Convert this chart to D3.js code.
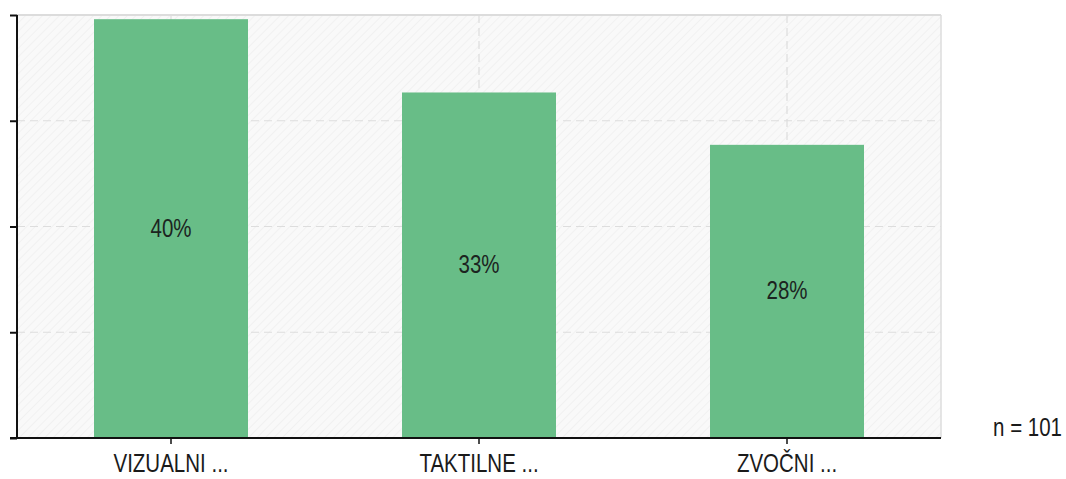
<!DOCTYPE html>
<html>
<head>
<meta charset="utf-8">
<script src="https://cdn.jsdelivr.net/npm/d3@7"></script>
<style>
  html, body { margin: 0; padding: 0; background: #ffffff; }
  svg { display: block; }
  .cat-label, .val-label, .n-label { font-family: "Liberation Sans", Arial, sans-serif; }
</style>
</head>
<body>
<svg id="chart" width="1066" height="479"></svg>
<script>
// Response counts per category (n = 101)
const categories = ["VIZUALNI ...", "TAKTILNE ...", "ZVOČNI ..."];
const counts = [40, 33, 28];
const total = 101;
const yTicks = [0, 10, 20, 30, 40];

const percents = counts.map(c => c / total * 100);

const W = 1066, H = 479;
const margin = { top: 15, right: 125, bottom: 41, left: 17 };
const plotW = W - margin.left - margin.right;
const plotH = H - margin.top - margin.bottom;
const FONT = 25;          // label font size
const SQUEEZE = 0.82;     // narrow letterforms

const svg = d3.select("#chart");

// Hatched plot background
const defs = svg.append("defs");
const pat = defs.append("pattern")
  .attr("id", "hatch")
  .attr("patternUnits", "userSpaceOnUse")
  .attr("width", 6).attr("height", 6)
  .attr("patternTransform", "rotate(45)");
pat.append("rect").attr("width", 6).attr("height", 6).attr("fill", "#f9f9f9");
pat.append("line").attr("x1", 0).attr("y1", 0).attr("x2", 0).attr("y2", 6)
  .attr("stroke", "#ececec").attr("stroke-width", 1.2);

const g = svg.append("g").attr("transform", `translate(${margin.left},${margin.top})`);

const x = d3.scaleBand().domain(categories).range([0, plotW]).paddingInner(0.5).paddingOuter(0.25);
const y = d3.scaleLinear().domain([0, 40]).range([plotH, 0]);

g.append("rect").attr("width", plotW).attr("height", plotH).attr("fill", "url(#hatch)");

// Plot frame (top and right)
g.append("line").attr("x1", 0).attr("x2", plotW).attr("y1", 0).attr("y2", 0)
  .attr("stroke", "#dcdcdc").attr("stroke-width", 2);
g.append("line").attr("x1", plotW).attr("x2", plotW).attr("y1", 0).attr("y2", plotH)
  .attr("stroke", "#dcdcdc").attr("stroke-width", 1.5);

// Dashed grid lines
g.append("g").selectAll("line")
  .data(yTicks.filter(t => t > 0 && t < 40))
  .join("line")
  .attr("x1", 0).attr("x2", plotW)
  .attr("y1", d => y(d)).attr("y2", d => y(d))
  .attr("stroke", "#dddddd").attr("stroke-width", 1.2)
  .attr("stroke-dasharray", "8,5");

g.append("g").selectAll("line")
  .data(categories)
  .join("line")
  .attr("x1", d => x(d) + x.bandwidth() / 2).attr("x2", d => x(d) + x.bandwidth() / 2)
  .attr("y1", 0).attr("y2", plotH)
  .attr("stroke", "#dddddd").attr("stroke-width", 1.2)
  .attr("stroke-dasharray", "8,5");

// Bars
g.append("g").selectAll("rect")
  .data(categories)
  .join("rect")
  .attr("x", d => x(d))
  .attr("y", (d, i) => y(percents[i]))
  .attr("width", x.bandwidth())
  .attr("height", (d, i) => plotH - y(percents[i]))
  .attr("fill", "#68bd87");

// Value labels in the middle of each bar
g.append("g").selectAll("text")
  .data(categories)
  .join("text")
  .attr("class", "val-label")
  .attr("transform", (d, i) =>
    `translate(${x(d) + x.bandwidth() / 2},${(y(percents[i]) + plotH) / 2 + 8}) scale(${SQUEEZE},1)`)
  .attr("text-anchor", "middle")
  .attr("font-size", FONT)
  .attr("fill", "#1c241f")
  .text((d, i) => Math.round(percents[i]) + "%");

// Y axis (no labels)
const yAxis = g.append("g")
  .call(d3.axisLeft(y).tickValues(yTicks).tickSize(7).tickFormat(""));
yAxis.select(".domain").attr("stroke", "#111").attr("stroke-width", 2)
  .attr("d", `M0,${plotH}V0`);
yAxis.selectAll(".tick line").attr("stroke", "#111").attr("stroke-width", 2);

// X axis
const xAxis = g.append("g")
  .attr("transform", `translate(0,${plotH})`)
  .call(d3.axisBottom(x).tickSize(6));
xAxis.select(".domain").attr("stroke", "#111").attr("stroke-width", 2)
  .attr("d", `M-7,0H${plotW}`);
xAxis.selectAll(".tick line").attr("stroke", "#111").attr("stroke-width", 1.5);
xAxis.selectAll(".tick text")
  .attr("class", "cat-label")
  .attr("y", null).attr("dy", null)
  .attr("transform", `translate(0,34) scale(${SQUEEZE},1)`)
  .attr("font-size", FONT)
  .attr("fill", "#1a1a1a");

// Sample size note
svg.append("text")
  .attr("class", "n-label")
  .attr("transform", `translate(1062,436) scale(${SQUEEZE},1)`)
  .attr("text-anchor", "end")
  .attr("font-size", FONT)
  .attr("fill", "#1a1a1a")
  .text("n = " + total);
</script>
</body>
</html>
